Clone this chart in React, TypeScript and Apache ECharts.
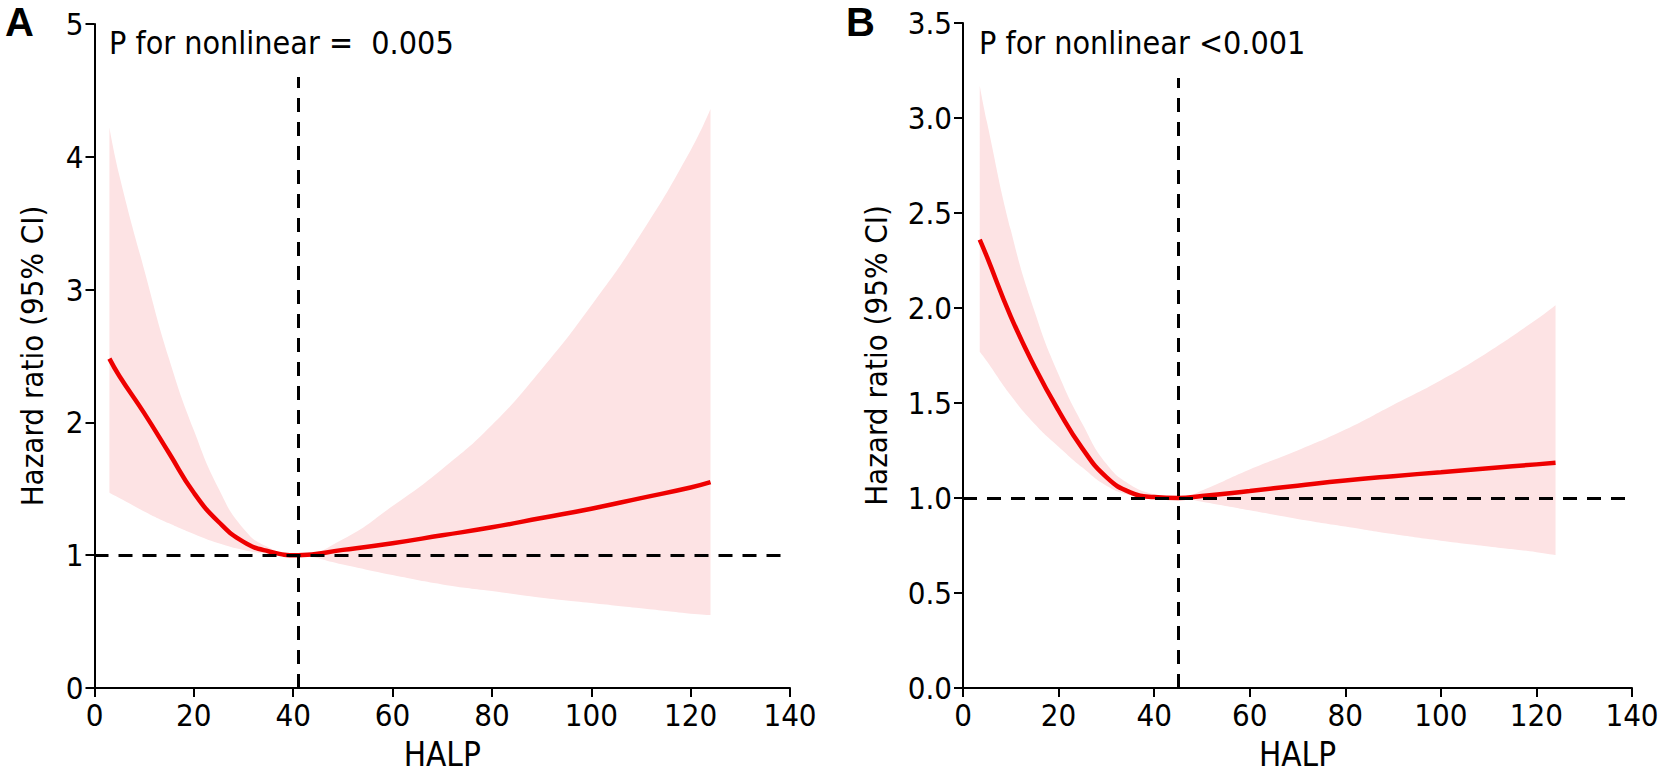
import React, { useEffect, useRef } from "react";
import * as echarts from "echarts";

// ---------- Panel A data ----------
const xA = [3, 5, 10, 15, 20, 25, 30, 35, 41, 50, 60, 70, 80, 90, 100, 110, 120, 124];
const hrA = [2.48, 2.35, 2.07, 1.77, 1.47, 1.25, 1.1, 1.03, 1.0, 1.04, 1.09, 1.15, 1.21, 1.28, 1.35, 1.43, 1.51, 1.55];
const upperA = [4.22, 3.86, 3.15, 2.48, 1.94, 1.5, 1.2, 1.06, 1.0, 1.12, 1.37, 1.65, 1.98, 2.4, 2.88, 3.42, 4.05, 4.36];
const lowerA = [1.47, 1.43, 1.33, 1.24, 1.16, 1.09, 1.04, 1.01, 1.0, 0.93, 0.85, 0.78, 0.73, 0.68, 0.64, 0.6, 0.56, 0.55];
const refXA = 41;
const pTextA = "P for nonlinear =  0.005";

// ---------- Panel B data ----------
const xB = [3.5, 5, 10, 15, 20, 25, 30, 35, 40, 45, 50, 60, 70, 80, 90, 100, 110, 120, 124];
const hrB = [2.36, 2.27, 1.955, 1.69, 1.46, 1.26, 1.11, 1.03, 1.005, 1.0, 1.01, 1.037, 1.065, 1.092, 1.115, 1.136, 1.157, 1.177, 1.185];
const upperB = [3.17, 2.98, 2.41, 1.98, 1.65, 1.39, 1.18, 1.07, 1.02, 1.0, 1.04, 1.15, 1.25, 1.36, 1.49, 1.62, 1.77, 1.94, 2.015];
const lowerB = [1.77, 1.72, 1.54, 1.39, 1.27, 1.16, 1.065, 1.015, 0.995, 1.0, 0.98, 0.935, 0.89, 0.85, 0.81, 0.775, 0.745, 0.715, 0.7];
const refXB = 45;
const pTextB = "P for nonlinear <0.001";

// ---------- Axes ----------
const xTicks = [0, 20, 40, 60, 80, 100, 120, 140];
const yMaxA = 5;
const yStepA = 1;
const yMaxB = 3.5;
const yStepB = 0.5;
const xName = "HALP";
const yName = "Hazard ratio (95% CI)";
const panelLabels = ["A", "B"];

const FONT = "'DejaVu Sans Condensed', 'DejaVu Sans', sans-serif";
const RED = "#ee0000";
const BAND = "#fde3e4";

function pairs(xs: number[], ys: number[]) {
  return xs.map((x, i) => [x, ys[i]]);
}
// value first, x second, so that stacking acts on the y values
function stackPairs(xs: number[], vs: number[]) {
  return xs.map((x, i) => [vs[i], x]);
}
function widths(hi: number[], lo: number[]) {
  return hi.map((h, i) => +(h - lo[i]).toFixed(4));
}

function xAxisCfg(gridIndex: number) {
  return {
    type: "value",
    gridIndex,
    z: 10,
    min: xTicks[0],
    max: xTicks[xTicks.length - 1],
    interval: 20,
    name: xName,
    nameLocation: "middle",
    nameGap: 50,
    nameTextStyle: { fontFamily: FONT, fontSize: 33, color: "#000" },
    axisLine: { show: true, onZero: false, lineStyle: { color: "#000", width: 2 } },
    axisTick: { show: true, length: 9, lineStyle: { color: "#000", width: 2 } },
    axisLabel: { fontFamily: FONT, fontSize: 31, color: "#000", margin: 11 },
    splitLine: { show: false },
  };
}

function yAxisCfg(gridIndex: number, max: number, step: number, decimals: number, gap: number) {
  return {
    type: "value",
    gridIndex,
    z: 10,
    min: 0,
    max,
    interval: step,
    name: yName,
    nameLocation: "middle",
    nameGap: gap,
    nameTextStyle: { fontFamily: FONT, fontSize: 31, color: "#000" },
    axisLine: { show: true, onZero: false, lineStyle: { color: "#000", width: 2 } },
    axisTick: { show: true, length: 9, lineStyle: { color: "#000", width: 2 } },
    axisLabel: {
      fontFamily: FONT,
      fontSize: 31,
      color: "#000",
      margin: 11,
      formatter: (v: number) => v.toFixed(decimals),
    },
    splitLine: { show: false },
  };
}

function panelSeries(idx: number, xs: number[], hr: number[], up: number[], lo: number[], refX: number, refTop: number) {
  const stack = "ci" + idx;
  return [
    {
      type: "line",
      xAxisIndex: idx,
      yAxisIndex: idx,
      dimensions: ["v", "x"],
      encode: { x: 1, y: 0 },
      data: stackPairs(xs, lo),
      stack,
      smooth: true,
      symbol: "none",
      lineStyle: { width: 0, opacity: 0 },
      silent: true,
      z: 1,
    },
    {
      type: "line",
      xAxisIndex: idx,
      yAxisIndex: idx,
      dimensions: ["v", "x"],
      encode: { x: 1, y: 0 },
      data: stackPairs(xs, widths(up, lo)),
      stack,
      smooth: true,
      symbol: "none",
      lineStyle: { width: 0, opacity: 0 },
      areaStyle: { color: BAND, opacity: 1 },
      silent: true,
      z: 1,
    },
    {
      type: "line",
      xAxisIndex: idx,
      yAxisIndex: idx,
      data: [],
      z: 2,
      markLine: {
        silent: true,
        symbol: "none",
        label: { show: false },
        lineStyle: { color: "#000", width: 3, type: [14, 10] },
        data: [
          { yAxis: 1 },
          [{ coord: [refX, 0] }, { coord: [refX, refTop] }],
        ],
      },
    },
    {
      type: "line",
      xAxisIndex: idx,
      yAxisIndex: idx,
      data: pairs(xs, hr),
      smooth: true,
      symbol: "none",
      lineStyle: { color: RED, width: 4.5 },
      z: 3,
    },
  ];
}

function txt(text: string, left: number, top: number, size: number, bold: boolean, family: string) {
  return {
    type: "text",
    left,
    top,
    z: 100,
    style: {
      text,
      fontSize: size,
      fontWeight: bold ? "bold" : "normal",
      fontFamily: family,
      fill: "#000",
    },
  };
}

export default function App() {
  const ref = useRef<HTMLDivElement>(null);
  useEffect(() => {
    if (!ref.current) return;
    const chart = echarts.init(ref.current, undefined, { renderer: "svg" });
    chart.setOption({
      animation: false,
      backgroundColor: "#fff",
      grid: [
        { left: 94.5, top: 24, width: 695.5, height: 668 },
        { left: 963, top: 23, width: 669, height: 669 },
      ],
      xAxis: [xAxisCfg(0), xAxisCfg(1)],
      yAxis: [yAxisCfg(0, yMaxA, yStepA, 0, 47), yAxisCfg(1, yMaxB, yStepB, 1, 72)],
      graphic: [
        txt(panelLabels[0], 5, 2, 40, true, "'Liberation Sans', Arial, sans-serif"),
        txt(panelLabels[1], 846, 2, 40, true, "'Liberation Sans', Arial, sans-serif"),
        txt(pTextA, 109, 27, 32, false, FONT),
        txt(pTextB, 979, 27, 32, false, FONT),
      ],
      series: [
        ...panelSeries(0, xA, hrA, upperA, lowerA, refXA, 4.6),
        ...panelSeries(1, xB, hrB, upperB, lowerB, refXB, 3.21),
      ],
    });
    return () => chart.dispose();
  }, []);
  return (
    <div
      ref={ref}
      style={{ position: "fixed", left: 0, top: 0, width: 1666, height: 776, background: "#fff" }}
    />
  );
}
